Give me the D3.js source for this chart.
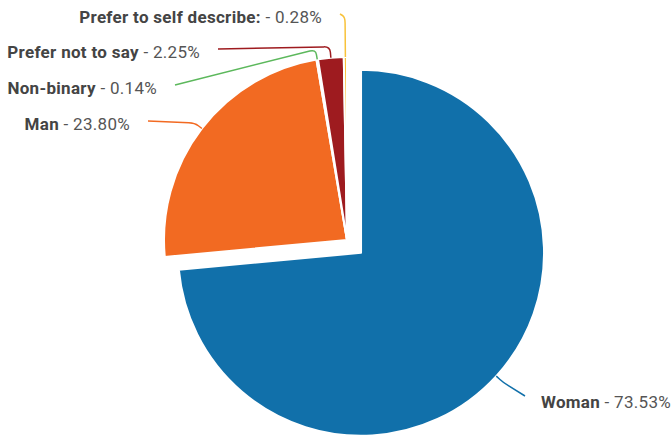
<!DOCTYPE html>
<html>
<head>
<meta charset="utf-8">
<script src="https://cdn.jsdelivr.net/npm/d3@7"></script>
<style>
  body { margin: 0; background: #fff; }
  text { font-family: Roboto, "Noto Sans", sans-serif; font-size: 17px; letter-spacing: 0.3px; }
</style>
</head>
<body>
<div id="chart"></div>
<script>
// data
const categories = ["Woman", "Man", "Non-binary", "Prefer not to say", "Prefer to self describe:"]
const shares = [73.53, 23.80, 0.14, 2.25, 0.28]
const colors = ["#1170aa", "#f26a22", "#5cb85c", "#9e1b1f", "#f8c23a"]

// label layout (text anchor point and how far the elbow sits past the rim)
const labelLayout = [
  { x: 541, y: 408, anchor: "start", elbow: 10 },
  { x: 130, y: 130, anchor: "end", elbow: 9 },
  { x: 157, y: 94, anchor: "end", elbow: 10 },
  { x: 200, y: 58, anchor: "end", elbow: 11 },
  { x: 322, y: 23, anchor: "end", elbow: 40 },
]

const width = 672
const height = 436
const cx = 347
const cy = 240
const radius = 183
const explode = [19, 0, 0, 0, 0]

const svg = d3.select("#chart").append("svg")
  .attr("width", width)
  .attr("height", height)

const pie = d3.pie().sort(null).value(d => d.value)
const arcs = pie(categories.map((c, i) => ({ name: c, value: shares[i], i })))

const arc = d3.arc().innerRadius(0).outerRadius(radius)

const fmt = d3.format(".2f")

// point on ray at angle a (d3 angle, clockwise from top)
const pointAt = (a, r, o) => [o[0] + Math.sin(a) * r, o[1] - Math.cos(a) * r]

arcs.forEach((d, i) => {
  const mid = (d.startAngle + d.endAngle) / 2
  const origin = pointAt(mid, explode[i], [cx, cy])

  svg.append("path")
    .attr("d", arc(d))
    .attr("transform", `translate(${origin[0]},${origin[1]})`)
    .attr("fill", colors[i])
    .attr("stroke", "#fff")
    .attr("stroke-width", 2)
    .attr("stroke-linejoin", "round")
})

// leader lines + labels
arcs.forEach((d, i) => {
  const mid = (d.startAngle + d.endAngle) / 2
  const origin = pointAt(mid, explode[i], [cx, cy])
  const lay = labelLayout[i]
  const p0 = pointAt(mid, radius, origin)
  const p1 = pointAt(mid, radius + lay.elbow, origin)
  const p2 = lay.anchor === "end" ? [lay.x + 18, lay.y - 9] : [lay.x - 16, lay.y - 12]

  svg.append("path")
    .attr("d", roundedPath([p0, p1, p2], 6))
    .attr("fill", "none")
    .attr("stroke", colors[i])
    .attr("stroke-width", 1.5)

  const t = svg.append("text")
    .attr("x", lay.x)
    .attr("y", lay.y)
    .attr("text-anchor", lay.anchor)
  t.append("tspan")
    .attr("font-weight", "bold")
    .attr("fill", "#444")
    .text(categories[i])
  t.append("tspan")
    .attr("fill", "#555")
    .text(` - ${fmt(shares[i])}%`)
})

// helper: polyline with a rounded corner at the middle point
function roundedPath(pts, r) {
  const [a, b, c] = pts
  const d1 = Math.hypot(b[0] - a[0], b[1] - a[1]) || 1
  const d2 = Math.hypot(c[0] - b[0], c[1] - b[1]) || 1
  const rr1 = Math.min(r, d1 / 2)
  const rr2 = Math.min(r, d2 / 2)
  const q1 = [b[0] - (b[0] - a[0]) / d1 * rr1, b[1] - (b[1] - a[1]) / d1 * rr1]
  const q2 = [b[0] + (c[0] - b[0]) / d2 * rr2, b[1] + (c[1] - b[1]) / d2 * rr2]
  return `M${a[0]},${a[1]}L${q1[0]},${q1[1]}Q${b[0]},${b[1]} ${q2[0]},${q2[1]}L${c[0]},${c[1]}`
}
</script>
</body>
</html>
